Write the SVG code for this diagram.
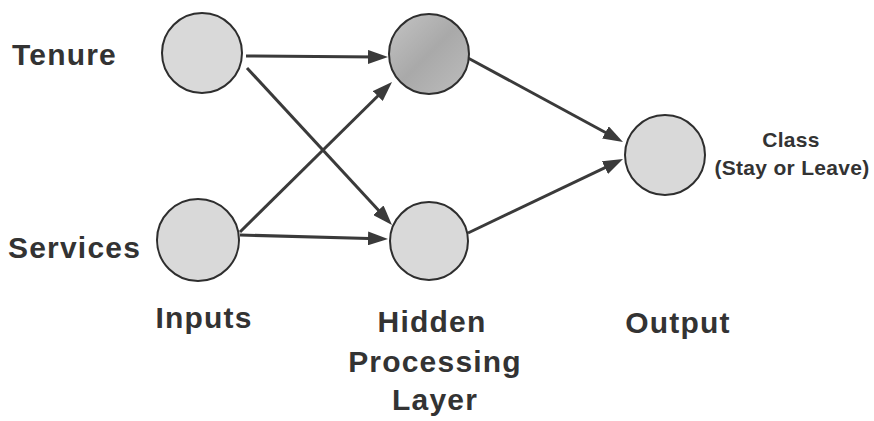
<svg xmlns="http://www.w3.org/2000/svg" width="874" height="421" viewBox="0 0 874 421">
  <style>
    .node { fill: #d9d9d9; stroke: #2e2e2e; stroke-width: 2; }
    .label { font-family: "Liberation Sans", Arial, sans-serif; font-weight: bold; fill: #333333; font-size: 30px; letter-spacing: 1.2px; }
    .small { font-size: 21px; letter-spacing: 0.3px; }
    .edge { stroke: #3a3a3a; stroke-width: 3; fill: none; marker-end: url(#arrow); }
  </style>
  <defs>
    <marker id="arrow" markerUnits="userSpaceOnUse" markerWidth="20" markerHeight="14" refX="10" refY="7" orient="auto">
      <path d="M0,0 L20,7 L0,14 z" fill="#3a3a3a"/>
    </marker>
    <linearGradient id="darkNode" x1="0" y1="0" x2="1" y2="1">
      <stop offset="0" stop-color="#c4c4c4"/>
      <stop offset="0.5" stop-color="#a9a9a9"/>
      <stop offset="1" stop-color="#bdbdbd"/>
    </linearGradient>
  </defs>
  <rect width="874" height="421" fill="#ffffff"/>

  <g id="connectors">
    <path class="edge" d="M246,56 L378,57"/>
    <path class="edge" d="M247,68 L385.2,217.6"/>
    <path class="edge" d="M240,232 L384.9,89"/>
    <path class="edge" d="M240,235 L378,238.7"/>
    <path class="edge" d="M468,58 L614.2,137.2"/>
    <path class="edge" d="M468,233 L614,163.3"/>
  </g>

  <g id="tenure">
    <circle class="node" cx="202" cy="53" r="40"/>
    <text class="label" x="12" y="65">Tenure</text>
  </g>
  <g id="services">
    <circle class="node" cx="198" cy="240" r="41"/>
    <text class="label" x="8" y="258">Services</text>
  </g>
  <g id="hidden1">
    <circle class="node" cx="429" cy="54" r="40" fill="url(#darkNode)" style="fill:url(#darkNode)"/>
  </g>
  <g id="hidden2">
    <circle class="node" cx="429" cy="241" r="39"/>
  </g>
  <g id="output">
    <circle class="node" cx="665" cy="155" r="40"/>
    <text class="label small" x="791" y="147" text-anchor="middle">Class</text>
    <text class="label small" x="792" y="175" text-anchor="middle">(Stay or Leave)</text>
  </g>

  <g id="layer-labels">
    <text class="label" x="204" y="328" text-anchor="middle">Inputs</text>
    <text class="label" x="432" y="332" text-anchor="middle">Hidden</text>
    <text class="label" x="435" y="372" text-anchor="middle">Processing</text>
    <text class="label" x="435" y="410" text-anchor="middle">Layer</text>
    <text class="label" x="678" y="333" text-anchor="middle">Output</text>
  </g>
</svg>
